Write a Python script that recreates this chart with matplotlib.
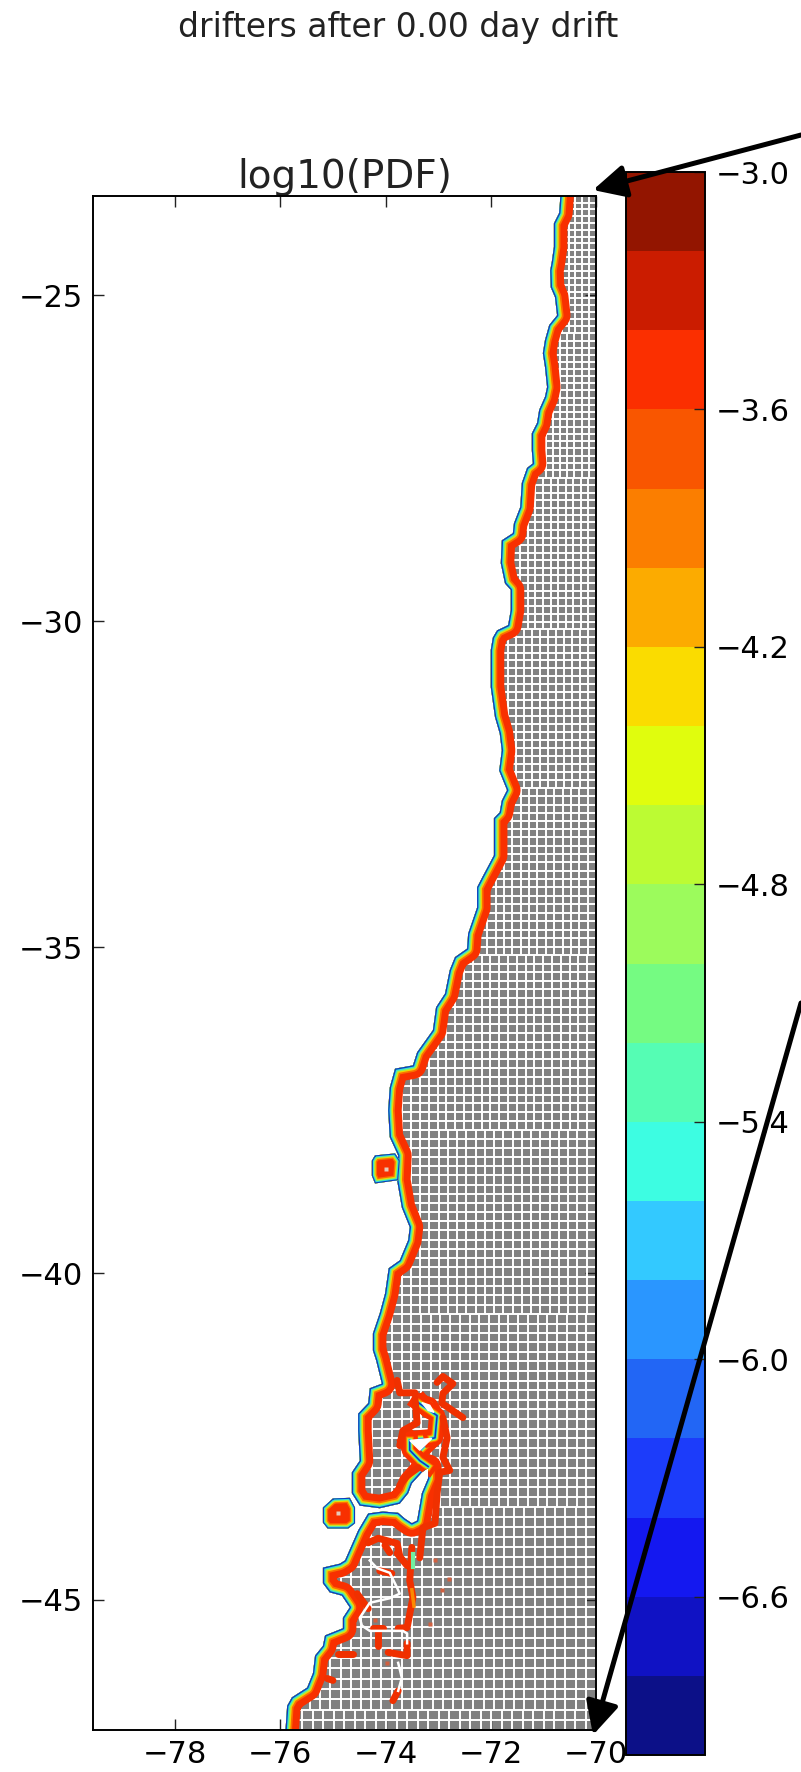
#Recreates the drifter PDF map: coast bands on a grey land grid, plus a stepped colorbar
import matplotlib
matplotlib.use('Agg')
import matplotlib.pyplot as plt
import numpy as np
from matplotlib.colors import ListedColormap, BoundaryNorm
from matplotlib.cm import ScalarMappable
from matplotlib.patches import Polygon, FancyArrowPatch
from matplotlib.transforms import IdentityTransform

#Coast, north to south (outer edge of the blue band)
coast_lon = [-70.67, -70.70, -70.80, -70.80, -70.84, -70.87, -70.86, -70.78, -70.74, -70.89, -70.97, -71.01,
             -70.97, -70.93, -70.97, -71.08, -71.12, -71.22, -71.22, -71.20, -71.31, -71.41, -71.44, -71.56,
             -71.58, -71.79, -71.81, -71.73, -71.62, -71.62, -71.67, -71.88, -71.96, -72.00, -72.00, -71.92,
             -71.83, -71.79, -71.84, -71.69, -71.79, -71.83, -71.94, -71.94, -72.17, -72.26, -72.26, -72.43,
             -72.45, -72.68, -72.78, -72.87, -73.04, -73.10, -73.40, -73.48, -73.82, -73.92, -73.95, -73.92,
             -73.76, -73.78, -73.69, -73.54, -73.57, -73.73, -73.94, -74.01, -74.11, -74.24, -74.24, -74.18,
             -74.07, -74.30, -74.33, -74.52, -74.52, -74.49, -74.64, -74.64, -74.49, -74.11, -73.73, -73.57,
             -73.50, -73.31, -73.19, -73.19, -73.31, -73.40, -73.50, -73.63, -73.76, -74.05, -74.33, -74.52,
             -74.77, -74.87, -75.19, -75.19, -75.06, -74.83, -74.68, -74.81, -74.81, -75.15, -75.19, -75.34,
             -75.38, -75.49, -75.78, -75.87, -75.91]
coast_lat = [-23.40, -23.74, -23.90, -24.26, -24.49, -24.62, -24.88, -25.03, -25.31, -25.46, -25.69, -25.89,
             -26.10, -26.41, -26.56, -26.76, -26.96, -27.12, -27.38, -27.58, -27.65, -27.88, -28.25, -28.50,
             -28.65, -28.76, -29.11, -29.42, -29.52, -29.83, -30.06, -30.14, -30.25, -30.44, -31.01, -31.47,
             -31.72, -31.98, -32.29, -32.59, -32.75, -32.93, -33.02, -33.59, -33.94, -34.08, -34.39, -34.79,
             -35.02, -35.15, -35.35, -35.71, -35.92, -36.27, -36.61, -36.81, -36.86, -37.15, -37.50, -37.91,
             -38.19, -38.57, -38.99, -39.29, -39.49, -39.80, -39.92, -40.31, -40.61, -40.92, -41.18, -41.33,
             -41.69, -41.76, -41.99, -42.15, -42.41, -42.87, -43.05, -43.37, -43.56, -43.60, -43.53, -43.37,
             -43.22, -43.05, -42.98, -43.14, -43.37, -43.79, -43.83, -43.76, -43.67, -43.65, -43.68, -43.94,
             -44.40, -44.45, -44.51, -44.75, -44.89, -44.94, -45.12, -45.28, -45.44, -45.55, -45.71, -45.86,
             -46.13, -46.35, -46.50, -46.63, -47.10]

#Islands
island1_lon = [-74.20, -73.82, -73.73, -73.76, -74.20, -74.26, -74.26]
island1_lat = [-38.19, -38.16, -38.27, -38.57, -38.62, -38.50, -38.27]
island2_lon = [-75.00, -74.68, -74.58, -74.58, -74.71, -75.10, -75.19, -75.19]
island2_lat = [-43.45, -43.44, -43.59, -43.83, -43.91, -43.91, -43.82, -43.59]
#Pale middle of each island
island_mid_lon = [-74.00, -74.90]
island_mid_lat = [-38.40, -43.68]

#Water inside the land
hole1_lon = [-73.54, -73.12, -73.35]
hole1_lat = [-42.56, -42.53, -42.71]
hole2_lon = [-73.31, -73.16, -73.08, -73.19]
hole2_lat = [-41.98, -42.02, -42.13, -42.10]

#Narrow water with no white left, only the bands show
gulf_lon = [-73.38, -73.02, -73.06, -73.12]
gulf_lat = [-41.98, -42.18, -42.52, -42.53]
link_lon = [-73.54, -73.54, -73.35, -73.19]
link_lat = [-42.56, -42.71, -42.87, -42.96]

#Red specks and streaks east of the coast, each one (lons, lats)
streaks = [
    ([-73.78, -73.73, -73.44], [-41.64, -41.83, -41.83]),
    ([-73.02, -72.91, -72.72, -72.91, -72.93, -72.53], [-41.67, -41.58, -41.69, -41.84, -41.99, -42.21]),
    ([-72.91, -72.83, -72.91, -72.78, -72.97, -73.02, -73.06, -73.29, -73.35],
     [-42.21, -42.52, -42.82, -43.02, -43.05, -43.37, -43.83, -43.90, -44.36]),
    ([-73.44, -73.40, -73.67, -73.73], [-41.92, -42.29, -42.41, -42.64]),
    ([-73.38, -73.59, -73.73], [-42.98, -43.10, -43.25]),
    ([-74.33, -74.14, -73.78, -73.73], [-44.13, -44.06, -44.14, -44.33]),
    ([-74.01, -73.92], [-44.17, -44.28]),
    ([-74.11, -73.88], [-44.56, -44.60]),
    ([-73.78, -73.59], [-44.29, -44.48]),
    ([-73.50, -73.54, -73.48, -73.59, -73.76], [-44.20, -44.71, -44.97, -45.43, -45.44]),
    ([-74.54, -74.33], [-44.91, -45.14]),
    ([-74.24, -74.05], [-45.44, -45.44]),
    ([-74.14, -74.14], [-45.44, -45.71]),
    ([-73.95, -73.59, -73.59], [-45.81, -45.86, -45.67]),
    ([-73.76, -73.86], [-46.40, -46.55]),
    ([-74.90, -74.62], [-45.83, -45.83]),
    ([-75.11, -75.00], [-46.21, -46.24]),
]
speck_lon = [-73.06, -72.79, -72.93, -73.16, -73.97, -74.20]
speck_lat = [-44.39, -44.69, -44.85, -45.37, -45.98, -45.32]

#White cracks in the southern part of the land
crack1_lon = [-74.30, -74.16, -73.92, -73.78, -73.73, -73.92, -74.30, -74.49, -74.45, -74.30, -73.67, -73.59, -73.59]
crack1_lat = [-44.40, -44.52, -44.59, -44.82, -44.91, -44.98, -45.05, -45.28, -45.40, -45.48, -45.48, -45.52, -45.67]
crack2_lon = [-73.76, -73.69, -73.76]
crack2_lat = [-45.97, -46.20, -46.40]

#Colorbar, top band first
cbar_levels = [-7.0, -6.8, -6.6, -6.4, -6.2, -6.0, -5.8, -5.6, -5.4, -5.2, -5.0,
               -4.8, -4.6, -4.4, -4.2, -4.0, -3.8, -3.6, -3.4, -3.2, -3.0]
cbar_colors = ['#931500', '#cb1c00', '#fb2f00', '#f95600', '#fb7e00', '#fcab00', '#fadc00', '#e0fd0d', '#bcfb33', '#9cfb5c',
               '#75fb82', '#55fdb4', '#3dfde2', '#33c9ff', '#2a96ff', '#2266f5', '#1c3cfa', '#1418f0', '#1012c4', '#0c1088']
cbar_ticks = [-3.0, -3.6, -4.2, -4.8, -5.4, -6.0, -6.6]
cbar_ticklabels = ['\u22123.0', '\u22123.6', '\u22124.2', '\u22124.8', '\u22125.4', '\u22126.0', '\u22126.6']

x_ticks = [-78, -76, -74, -72, -70]
y_ticks = [-25, -30, -35, -40, -45]

#Depth of each band inside the land in pixels, and colour. Widest goes down first.
bands = [(13.5, '#f83000'), (6.5, '#fb7000'), (4.8, '#f0d800'), (3.6, '#90f060'), (2.5, '#30e0d8'), (1.3, '#1038c0')]

W, H = 801, 1772
fig = plt.figure(figsize=(W / 100, H / 100), dpi=100)
ax = fig.add_axes([93 / W, 1 - 1730 / H, 503 / W, 1534 / H])
ax.set_xlim(-79.56, -70)
ax.set_ylim(-47.0, -23.48)


def stroke(lons, lats, clip, closed=False, scale=1.0):
    #Stroke centred on the line, so twice the band depth, cut off by the land patch
    if closed:
        lons = list(lons) + [lons[0]]
        lats = list(lats) + [lats[0]]
    for depth, col in bands:
        line, = ax.plot(lons, lats, color=col, lw=2 * depth * scale * 0.72, solid_joinstyle='round', zorder=3)
        line.set_clip_path(clip)


def land_grid(clip):
    #Grey land cut by white grid lines. Cells grow towards the south.
    rows = []
    lat = -23.48
    while lat > -47.0:
        frac = (-23.48 - lat) / 23.52
        rows.append(lat)
        lat -= 0.103 + 0.057 * frac
    rows.append(-47.0)
    lines = ax.hlines(rows, -80, -70, color='white', lw=1.4, zorder=2)
    lines.set_clip_path(clip)
    #Columns change width in steps, each step starts on a row so no seam shows
    step = 20
    for i in range(0, len(rows) - 1, step):
        top = rows[i]
        bot = rows[min(i + step, len(rows) - 1)]
        frac = (-23.48 - (top + bot) / 2) / 23.52
        dx = 0.127 + 0.073 * frac
        lines = ax.vlines(-70 - dx * np.arange(1, 80), bot, top, color='white', lw=1.4, zorder=2)
        lines.set_clip_path(clip)


#Mainland
land_xy = list(zip(coast_lon, coast_lat)) + [(-69, -48), (-69, -23)]
mainland = Polygon(land_xy, closed=True, facecolor='#808080', edgecolor='none', zorder=1)
ax.add_patch(mainland)
land_grid(mainland)
stroke(coast_lon, coast_lat, mainland)
stroke(hole1_lon, hole1_lat, mainland, closed=True, scale=0.7)
stroke(hole2_lon, hole2_lat, mainland, closed=True, scale=0.6)
stroke(gulf_lon, gulf_lat, mainland, scale=0.6)
stroke(link_lon, link_lat, mainland, scale=0.6)

#Islands
for lons, lats in [(island1_lon, island1_lat), (island2_lon, island2_lat)]:
    isl = Polygon(list(zip(lons, lats)), closed=True, facecolor='#f83000', edgecolor='none', zorder=1)
    ax.add_patch(isl)
    stroke(lons, lats, isl, closed=True, scale=0.8)
ax.plot(island_mid_lon, island_mid_lat, ls='none', marker='s', ms=3.5, color='#e8c8b8', mec='none', zorder=5)

#Streaks and specks
for lons, lats in streaks:
    ax.plot(lons, lats, color='#f03000', lw=5, solid_capstyle='round', solid_joinstyle='round', zorder=4)
ax.plot(speck_lon, speck_lat, ls='none', marker='s', ms=3.5, color='#d06040', mec='none', zorder=4)
ax.plot([-73.48, -73.48], [-44.30, -44.50], color='#70f0a0', lw=3, zorder=5)
ax.plot([-73.50, -73.46], [-44.85, -45.10], color='#fb8a00', lw=2.5, zorder=5)

#White water and cracks on top of the bands
ax.fill(hole1_lon, hole1_lat, color='white', zorder=5)
ax.fill(hole2_lon, hole2_lat, color='white', zorder=5)
ax.plot(crack1_lon, crack1_lat, color='white', lw=1.8, zorder=5)
ax.plot(crack2_lon, crack2_lat, color='white', lw=1.8, zorder=5)

#Axes cosmetics
ax.set_xticks(x_ticks)
ax.set_xticklabels(['\u2212%d' % abs(v) for v in x_ticks])
ax.set_yticks(y_ticks)
ax.set_yticklabels(['\u2212%d' % abs(v) for v in y_ticks])
ax.tick_params(direction='in', top=True, right=True, length=8, width=1, labelsize=22, pad=7, color='#222222')
for s in ax.spines.values():
    s.set_linewidth(1.4)
    s.set_zorder(6)
ax.set_title('log10(PDF)', fontsize=28, pad=6, color='#222222')
fig.text(398 / W, 1 - 27 / H, 'drifters after 0.00 day drift', fontsize=23.7, ha='center', va='center', color='#222222')

#Colorbar
cax = fig.add_axes([626 / W, 1 - 1755 / H, 79 / W, 1583 / H])
cmap = ListedColormap(cbar_colors[::-1])
norm = BoundaryNorm(cbar_levels, cmap.N)
cb = fig.colorbar(ScalarMappable(norm=norm, cmap=cmap), cax=cax, spacing='proportional', ticks=cbar_ticks)
cb.set_ticklabels(cbar_ticklabels)
cb.ax.minorticks_off()
cb.ax.tick_params(direction='in', length=8, width=1, labelsize=22, pad=8, color='#222222')
cb.outline.set_linewidth(1.4)

#The two black arrows that run off the right edge
for start, tip in [((801, H - 135), (593, H - 190)), ((801, H - 1003), (593, H - 1735))]:
    arrow = FancyArrowPatch(start, tip, transform=IdentityTransform(), arrowstyle='-|>,head_length=1.0,head_width=0.5',
                            mutation_scale=20, lw=3.6, color='black', shrinkA=0, shrinkB=0, zorder=20)
    fig.add_artist(arrow)

fig.savefig('out.png', dpi=100)
